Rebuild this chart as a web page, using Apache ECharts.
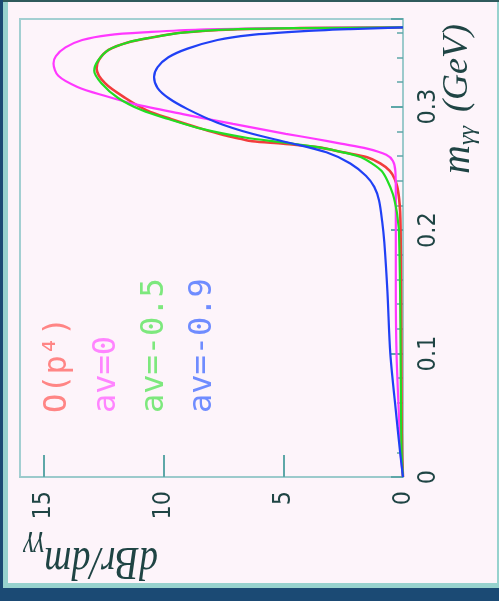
<!DOCTYPE html>
<html><head><meta charset="utf-8">
<script src="https://cdn.jsdelivr.net/npm/echarts@6/dist/echarts.min.js"></script>
<style>
html,body{margin:0;padding:0;width:499px;height:601px;overflow:hidden;background:#1b4a74;}
#teal{position:absolute;left:3px;top:0;width:496px;height:588px;background:#97d2ce;}
#topline{position:absolute;left:3px;top:0;width:496px;height:2px;background:#2f5a5c;}
#paper{position:absolute;left:8px;top:2px;width:489px;height:581px;background:#fdf4fa;}
#chart{position:absolute;left:0;top:0;width:499px;height:601px;}
</style></head><body>
<div id="teal"></div><div id="topline"></div><div id="paper"></div><div id="chart"></div>
<script>
// tick labels
const massTicks = [0, 0.1, 0.2, 0.3];
const rateTicks = [0, 5, 10, 15];
const legendNames = ['O(p⁴)', 'av=0', 'av=-0.5', 'av=-0.9'];

// O(p^4) (red)
const mRed = [0, 0.02, 0.05, 0.10, 0.15, 0.20, 0.215, 0.225, 0.235, 0.242, 0.248, 0.254, 0.259, 0.263, 0.267, 0.270, 0.272, 0.274, 0.277, 0.282, 0.290, 0.297, 0.307, 0.319, 0.331, 0.338, 0.346, 0.352, 0.356, 0.360, 0.3626, 0.3636, 0.3642];
const vRed = [0, 0.04, 0.06, 0.07, 0.08, 0.10, 0.12, 0.16, 0.24, 0.36, 0.55, 0.95, 1.5, 2.5, 3.5, 5.0, 6.3, 6.8, 7.5, 8.4, 9.7, 10.7, 11.6, 12.45, 12.8, 12.7, 12.3, 11.5, 10.5, 9.2, 7.1, 4.3, 0];
// av=0 (magenta)
const mMag = [0, 0.02, 0.05, 0.10, 0.15, 0.20, 0.23, 0.248, 0.256, 0.261, 0.266, 0.270, 0.274, 0.278, 0.286, 0.294, 0.302, 0.309, 0.316, 0.325, 0.335, 0.341, 0.348, 0.354, 0.358, 0.3605, 0.3625, 0.3635, 0.3642];
const vMag = [0, 0.1, 0.17, 0.27, 0.3, 0.3, 0.3, 0.32, 0.42, 0.7, 1.5, 2.6, 3.7, 4.9, 7.1, 9.2, 11.2, 12.5, 13.6, 14.4, 14.6, 14.5, 14.1, 13.4, 12.3, 10.5, 8.5, 5.7, 0];
// av=-0.5 (green)
const mGrn = [0, 0.02, 0.05, 0.10, 0.15, 0.20, 0.207, 0.215, 0.229, 0.240, 0.248, 0.254, 0.259, 0.263, 0.267, 0.271, 0.275, 0.282, 0.290, 0.297, 0.307, 0.319, 0.329, 0.337, 0.346, 0.352, 0.356, 0.360, 0.3626, 0.3636, 0.3642];
const vGrn = [0, 0.06, 0.08, 0.10, 0.12, 0.17, 0.21, 0.26, 0.42, 0.65, 0.9, 1.3, 1.75, 2.5, 3.5, 5.0, 6.6, 8.4, 9.8, 10.9, 11.9, 12.6, 12.9, 12.75, 12.3, 11.5, 10.5, 9.2, 7.1, 4.3, 0];
// av=-0.9 (blue)
const mBlu = [0, 0.02, 0.05, 0.10, 0.15, 0.19, 0.207, 0.224, 0.235, 0.244, 0.254, 0.263, 0.271, 0.278, 0.287, 0.298, 0.307, 0.315, 0.324, 0.332, 0.340, 0.347, 0.354, 0.358, 0.361, 0.3628, 0.3642];
const vBlu = [0, 0.12, 0.28, 0.53, 0.65, 0.78, 0.87, 1.0, 1.2, 1.55, 2.2, 3.2, 4.8, 6.3, 7.75, 9.0, 9.8, 10.25, 10.4, 10.25, 9.8, 9.0, 7.75, 6.4, 4.3, 2.2, 0];

function pairs(m, v) { return m.map((x, i) => [v[i], x]); }

const lineColors = ['#f23c3c', '#ff38ff', '#22dd22', '#2040f5'];
const textColors = ['#ff8585', '#ff85ff', '#7de87d', '#6f8cff'];
const legendX = [58, 107, 155, 203];

const labelFont = "'Liberation Sans Narrow','DejaVu Sans Condensed','Liberation Sans',sans-serif";
const serif = "'Liberation Serif','DejaVu Serif',serif";
const ink = '#1f4444';
const tickCol = '#5ea7a8';

const chart = echarts.init(document.getElementById('chart'), null, {renderer: 'canvas'});
const seriesData = [pairs(mRed, vRed), pairs(mMag, vMag), pairs(mGrn, vGrn), pairs(mBlu, vBlu)];

const graphics = legendNames.map((t, i) => ({
  type: 'text', x: legendX[i], y: 413, rotation: Math.PI / 2, z: 10,
  style: {text: t, fill: textColors[i], font: "32px 'DejaVu Sans Mono', monospace", align: 'left', verticalAlign: 'middle'}
}));
// x-axis (mass) title, rotated
graphics.push(
  {type: 'text', x: 458, y: 174, rotation: Math.PI / 2, z: 10,
   style: {text: 'm', fill: ink, font: "italic 40px " + serif, align: 'left', verticalAlign: 'middle'}},
  {type: 'text', x: 468, y: 145, rotation: Math.PI / 2, z: 10,
   style: {text: 'γγ', fill: ink, font: "italic 24px " + serif, align: 'left', verticalAlign: 'middle'}},
  {type: 'text', x: 458, y: 112, rotation: Math.PI / 2, z: 10,
   style: {text: '(GeV)', fill: ink, font: "italic 36px " + serif, align: 'left', verticalAlign: 'middle'}},
  // y-axis (rate) title, upside down
  {type: 'text', x: 158, y: 560, rotation: Math.PI, scaleY: 1.2, z: 10,
   style: {text: 'dBr/dm', fill: ink, font: "italic 38px " + serif, align: 'left', verticalAlign: 'middle'}},
  {type: 'text', x: 44, y: 546, rotation: Math.PI, scaleY: 1.1, z: 10,
   style: {text: 'γγ', fill: ink, font: "italic 26px " + serif, align: 'left', verticalAlign: 'middle'}}
);

chart.setOption({
  animation: false,
  grid: {left: 20, right: 96, top: 19, bottom: 124, show: true, borderColor: '#a3cfd2', borderWidth: 2, backgroundColor: 'transparent'},
  xAxis: {
    type: 'value', min: 0, max: 16, inverse: true, position: 'bottom',
    axisLine: {show: true, lineStyle: {color: '#9ccacc', width: 2}},
    axisTick: {show: true, inside: true, length: 22, customValues: [5, 10, 15], lineStyle: {color: tickCol, width: 2}},
    axisLabel: {customValues: rateTicks, rotate: 90, margin: 14, fontSize: 25, fontFamily: labelFont, color: ink},
    splitLine: {show: false}
  },
  yAxis: {
    type: 'value', min: 0, max: 0.371, interval: 0.1, position: 'right',
    axisLine: {show: true, lineStyle: {color: '#9ccacc', width: 2}},
    axisTick: {show: true, inside: true, length: 12, lineStyle: {color: tickCol, width: 2}},
    minorTick: {show: true, splitNumber: 5, length: 6, lineStyle: {color: tickCol, width: 1.5}},
    axisLabel: {customValues: massTicks, rotate: 90, margin: 13, fontSize: 25, fontFamily: labelFont, color: ink,
      formatter: v => v === 0 ? '0' : v.toFixed(1)},
    splitLine: {show: false}
  },
  series: seriesData.map((d, i) => ({
    type: 'line', data: d, showSymbol: false, smooth: 0.3, z: 2 + i,
    lineStyle: {color: lineColors[i], width: i === 0 ? 2.6 : 2.2}
  })),
  graphic: graphics
});
</script>
</body></html>
